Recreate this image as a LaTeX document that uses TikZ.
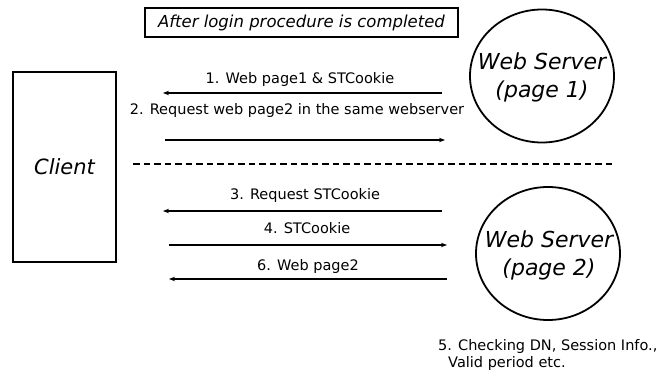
\documentclass[tikz,border=0pt]{standalone}
\usepackage{fontspec}
\setmainfont{DejaVu Sans}
\usetikzlibrary{shapes.geometric,arrows.meta}
\begin{document}
\begin{tikzpicture}[x=1pt,y=-1pt,
  lbl/.style={font=\fontsize{14.5}{16}\selectfont, inner sep=0pt, anchor=base},
  msg/.style={line width=1.3pt, -{Stealth[length=6pt,width=4.5pt]}},
  server/.style={draw, line width=1.8pt, ellipse, minimum width=144pt, minimum height=133pt, inner sep=0pt},
  servertext/.style={align=center, inner sep=0pt, font=\fontsize{22}{28}\selectfont\itshape},
]
\useasboundingbox (0,0) rectangle (667,374);
% title
\node[draw, line width=1.4pt, minimum width=313pt, minimum height=29pt, inner sep=0pt,
  font=\fontsize{16.5}{18}\selectfont\itshape] (title) at (301.5,22.5) {After login procedure is completed};
% client
\node[draw, line width=2pt, minimum width=103pt, minimum height=190pt, inner sep=0pt,
  font=\fontsize{21}{24}\selectfont\itshape] (client) at (64.5,167) {Client};
% servers
\node[server] (ws1) at (542,76) {};
\node[servertext] (ws1t) at (542,77) {Web Server\\(page 1)};
\node[server] (ws2) at (548,253.5) {};
\node[servertext] (ws2t) at (549,255) {Web Server\\(page 2)};
% arrow end points
\coordinate (a1s) at (442,93);  \coordinate (a1e) at (163,93);
\coordinate (a2s) at (165,140); \coordinate (a2e) at (445,140);
\coordinate (a3s) at (442,211); \coordinate (a3e) at (163,211);
\coordinate (a4s) at (169,245); \coordinate (a4e) at (447,245);
\coordinate (a6s) at (447,279); \coordinate (a6e) at (169,279);
\coordinate (dl) at (133,164);  \coordinate (dr) at (613,164);
% messages
\draw[msg] (a1s) -- (a1e);
\draw[msg] (a2s) -- (a2e);
\draw[msg] (a3s) -- (a3e);
\draw[msg] (a4s) -- (a4e);
\draw[msg] (a6s) -- (a6e);
\draw[line width=1.3pt, dash pattern=on 6.5pt off 4pt] (dl) -- (dr);
% labels
\node[lbl] (l1) at (300,84) {1. Web page1 \& STCookie};
\node[lbl] (l2) at (297,115) {2. Request web page2 in the same webserver};
\node[lbl] (l3) at (305,200) {3. Request STCookie};
\node[lbl] (l4) at (307,234) {4. STCookie};
\node[lbl] (l6) at (308,271) {6. Web page2};
\node[lbl, anchor=base west] (l5a) at (438,350) {5. Checking DN, Session Info.,};
\node[lbl, anchor=base west] (l5b) at (448,367) {Valid period etc.};
\end{tikzpicture}
\end{document}
